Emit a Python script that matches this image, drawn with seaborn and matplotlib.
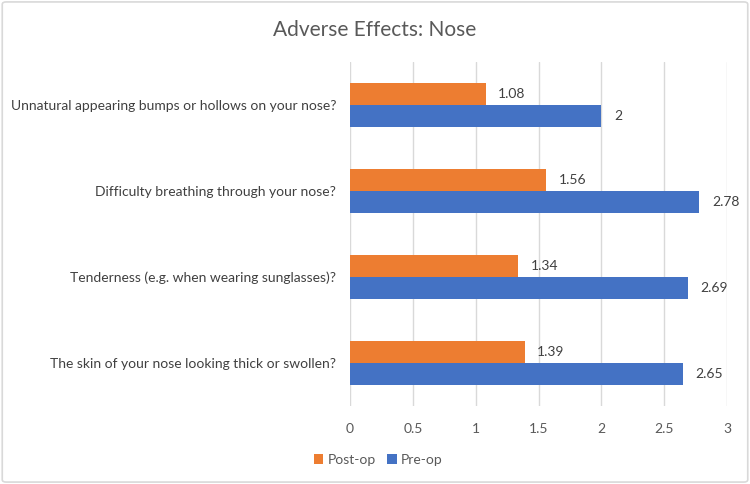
import matplotlib
matplotlib.use("Agg")
import matplotlib.pyplot as plt
import seaborn as sns
import pandas as pd
from matplotlib.patches import FancyBboxPatch

categories = [
    "Unnatural appearing bumps or hollows on your nose?",
    "Difficulty breathing through your nose?",
    "Tenderness (e.g. when wearing sunglasses)?",
    "The skin of your nose looking thick or swollen?",
]
post_op = [1.08, 1.56, 1.34, 1.39]
pre_op = [2.0, 2.78, 2.69, 2.65]
value_labels_post = ["1.08", "1.56", "1.34", "1.39"]
value_labels_pre = ["2", "2.78", "2.69", "2.65"]
series = ["Post-op", "Pre-op"]
x_ticks = [0, 0.5, 1, 1.5, 2, 2.5, 3]
x_tick_labels = ["0", "0.5", "1", "1.5", "2", "2.5", "3"]

df = pd.DataFrame({
    "question": categories * 2,
    "value": post_op + pre_op,
    "series": ["Post-op"] * 4 + ["Pre-op"] * 4,
})

sns.set_theme(style="white")
plt.rcParams["font.family"] = ["Lato", "DejaVu Sans"]
text_color = "#595959"

fig = plt.figure(figsize=(7.5, 4.84), dpi=100)
ax = fig.add_axes([350 / 750, 1 - 406 / 484, 377 / 750, 344 / 484])

sns.barplot(
    data=df, x="value", y="question", hue="series", hue_order=series,
    order=categories, palette=["#ED7D31", "#4472C4"], width=0.52,
    orient="h", ax=ax, legend=True, saturation=1, linewidth=0,
)

ax.set_xlim(0, 3)
ax.set_xticks(x_ticks)
ax.set_xticklabels(x_tick_labels, color=text_color, fontsize=10)
ax.tick_params(axis="x", length=0, pad=12)
ax.tick_params(axis="y", length=0, pad=10, labelsize=10, labelcolor="#404040")
ax.set_xlabel("")
ax.set_ylabel("")
ax.xaxis.grid(True, color="#D9D9D9", linewidth=1)
ax.yaxis.grid(False)
for s in ax.spines.values():
    s.set_visible(False)

labels_by_series = [value_labels_post, value_labels_pre]
for cont, labs in zip(ax.containers, labels_by_series):
    ax.bar_label(cont, labels=labs, padding=9, color="#404040", fontsize=10)

leg = ax.legend(
    loc="center", bbox_to_anchor=(378 / 750, 1 - 460 / 484),
    bbox_transform=fig.transFigure, ncol=2, frameon=False,
    handlelength=0.7, handleheight=0.7, handletextpad=0.3,
    columnspacing=0.8, fontsize=10,
)
for t in leg.get_texts():
    t.set_color(text_color)

fig.text(0.5, 1 - 30 / 484, "Adverse Effects: Nose", ha="center", va="center",
         fontsize=15, color=text_color)

border = FancyBboxPatch((0.003, 0.004), 0.994, 0.992,
                        boxstyle="round,pad=0,rounding_size=0.005",
                        transform=fig.transFigure, fill=False,
                        edgecolor="#D9D9D9", linewidth=1.2)
fig.patches.append(border)

fig.savefig("out.png", dpi=100)
